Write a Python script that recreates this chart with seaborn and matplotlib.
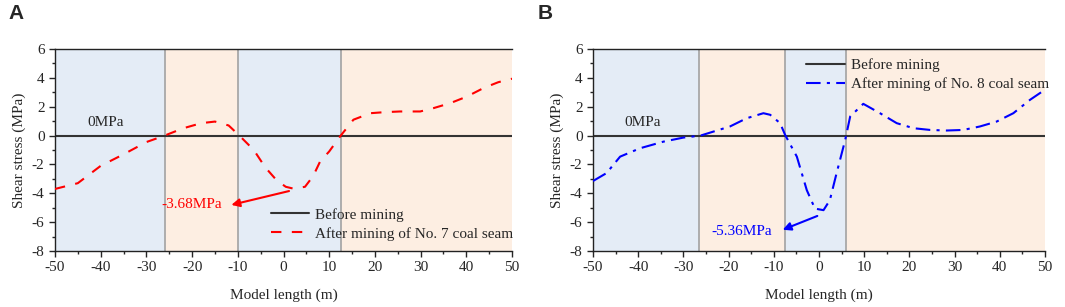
import numpy as np
import pandas as pd
import matplotlib.pyplot as plt
import seaborn as sns

# panel A: after mining of No. 7 coal seam
xa = [-50, -45, -40, -35, -30, -26, -22, -18, -15, -12, -9.5, -6.5, -4, -1.5, 0.5, 2.2, 4.7, 6.5, 8, 10, 12.4, 15.3, 19, 22, 25.5, 29.9, 32.8, 36.5, 40.1, 43.8, 47, 50]
ya = [-3.7, -3.3, -2.1, -1.3, -0.45, 0.0, 0.5, 0.86, 0.97, 0.7, -0.05, -1.0, -2.2, -3.1, -3.55, -3.68, -3.55, -2.8, -1.8, -1.1, -0.05, 1.1, 1.55, 1.62, 1.67, 1.67, 1.9, 2.25, 2.7, 3.3, 3.7, 3.94]

# panel B: after mining of No. 8 coal seam
xb = [-50, -47, -44, -39.6, -34.4, -30, -26.2, -19.7, -16, -12.3, -10.8, -8.6, -7.5, -4.9, -2.7, -0.9, 1, 2.4, 3.9, 5.8, 6.9, 9.8, 13.5, 17.2, 20.9, 24.6, 28.2, 31.9, 35.6, 39.3, 43, 46.7, 50]
yb = [-3.15, -2.6, -1.46, -0.88, -0.42, -0.14, 0.0, 0.63, 1.2, 1.55, 1.44, 0.86, 0.05, -1.46, -3.78, -5.06, -5.17, -4.48, -2.6, -0.3, 1.32, 2.2, 1.55, 0.86, 0.51, 0.39, 0.35, 0.39, 0.63, 0.97, 1.55, 2.48, 3.18]

bounds_a = [-50, -26, -10, 12.5, 50]
bounds_b = [-50, -26.5, -7.5, 6, 50]
zone_colors = ['#E4ECF6', '#FDEEE2', '#E4ECF6', '#FDEEE2']

sns.set_style("ticks")
plt.rcParams['font.family'] = ['Liberation Serif', 'DejaVu Serif']
plt.rcParams['axes.unicode_minus'] = False
plt.rcParams['xtick.direction'] = 'out'
plt.rcParams['ytick.direction'] = 'out'

FS = 11

fig = plt.figure(figsize=(10.65, 3.07), dpi=100)
ax_a = fig.add_axes([0.0516, 0.1824, 0.4292, 0.658])
ax_b = fig.add_axes([0.5568, 0.1824, 0.4244, 0.658])


def setup(ax, bounds):
    for i in range(4):
        ax.axvspan(bounds[i], bounds[i + 1], color=zone_colors[i], lw=0, zorder=0)
    for b in bounds[1:-1]:
        ax.axvline(b, color='#A8A8A8', lw=1.3, zorder=1)
    ax.set_xlim(-50, 50)
    ax.set_ylim(-8, 6)
    ax.set_xticks(np.arange(-50, 51, 10))
    ax.set_xticks(np.arange(-45, 50, 10), minor=True)
    ax.set_yticks(np.arange(-8, 7, 2))
    ax.set_yticks(np.arange(-7, 6, 2), minor=True)
    ax.tick_params(which='major', length=4, width=1, labelsize=FS)
    ax.tick_params(which='minor', length=2.5, width=1)
    ax.spines['right'].set_visible(False)
    for s in ['left', 'bottom', 'top']:
        ax.spines[s].set_linewidth(1.0)
        ax.spines[s].set_color('#222222')
    ax.text(-43, 0.45, '0MPa', fontsize=FS, va='bottom', ha='left')


df_a = pd.DataFrame({'x': xa, 'y': ya})
df_b = pd.DataFrame({'x': xb, 'y': yb})

setup(ax_a, bounds_a)
ax_a.axhline(0, color='#333333', lw=1.5, zorder=2, label='Before mining')
sns.lineplot(data=df_a, x='x', y='y', ax=ax_a, color='red', lw=1.5,
             label='After mining of No. 7 coal seam', zorder=3)
ax_a.lines[-1].set_dashes([5, 5])
ax_a.annotate('', xy=(-12, -4.85), xytext=(1.8, -3.8),
              arrowprops=dict(arrowstyle='-|>', color='red', lw=1.5, mutation_scale=12))
ax_a.text(-13.5, -4.8, '-3.68MPa', color='red', fontsize=FS, ha='right', va='center')
ax_a.legend(loc='lower left', bbox_to_anchor=(0.445, -0.01), frameon=False,
            fontsize=FS, handlelength=2.5, borderpad=0.3, labelspacing=0.35, handletextpad=0.4)
ax_a.set_xlabel('Model length (m)', fontsize=FS, labelpad=10)
ax_a.set_ylabel('Shear stress (MPa)', fontsize=FS, labelpad=4)

setup(ax_b, bounds_b)
ax_b.axhline(0, color='#333333', lw=1.5, zorder=2, label='Before mining')
sns.lineplot(data=df_b, x='x', y='y', ax=ax_b, color='blue', lw=1.5,
             label='After mining of No. 8 coal seam', zorder=3)
ax_b.lines[-1].set_dashes([7, 3, 1.5, 3])
ax_b.annotate('', xy=(-8.6, -6.6), xytext=(0.2, -5.5),
              arrowprops=dict(arrowstyle='-|>', color='blue', lw=1.5, mutation_scale=12))
ax_b.text(-10.5, -6.65, '-5.36MPa', color='blue', fontsize=FS, ha='right', va='center')
ax_b.legend(loc='upper left', bbox_to_anchor=(0.445, 1.015), frameon=False,
            fontsize=FS, handlelength=2.5, borderpad=0.3, labelspacing=0.35, handletextpad=0.4)
ax_b.set_xlabel('Model length (m)', fontsize=FS, labelpad=10)
ax_b.set_ylabel('Shear stress (MPa)', fontsize=FS, labelpad=4)

fig.text(0.008, 0.955, 'A', fontsize=15, fontweight='bold', family='Liberation Sans', va='center')
fig.text(0.505, 0.955, 'B', fontsize=15, fontweight='bold', family='Liberation Sans', va='center')

fig.savefig('out.png', dpi=100)
